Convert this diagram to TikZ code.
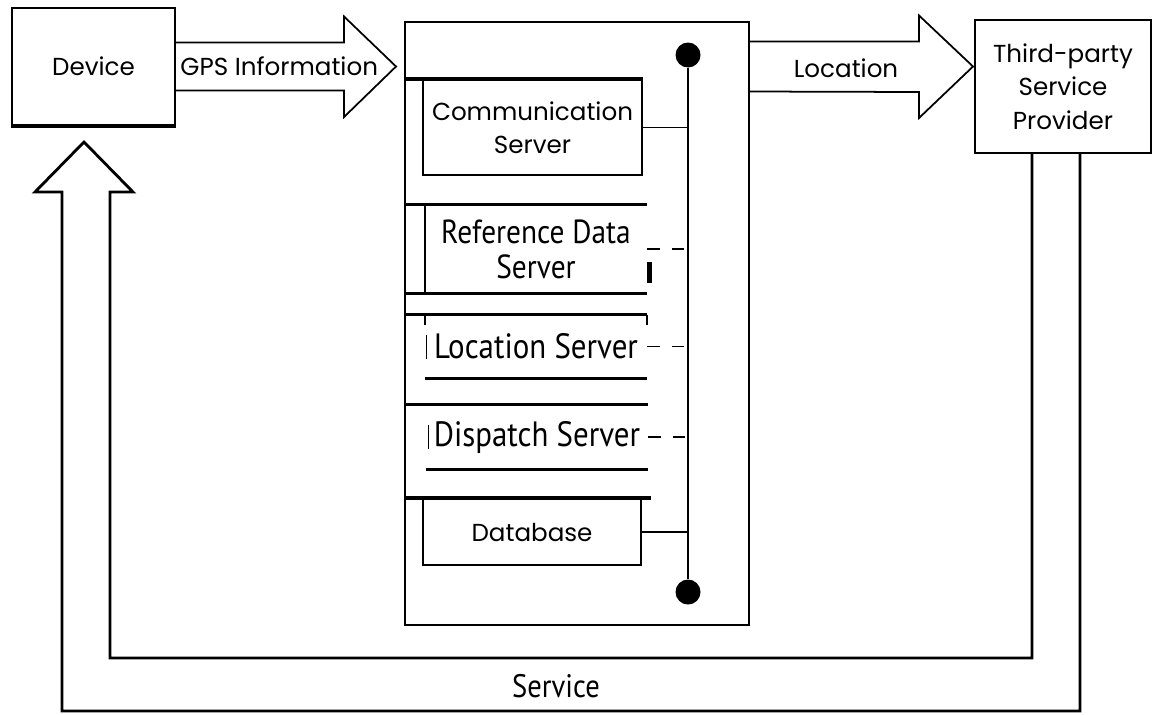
\documentclass[tikz,border=0pt]{standalone}
\usepackage{fontspec}
\setmainfont{Poppins}
\newfontfamily\narrowsf[FakeStretch=0.88]{PT Sans}
\usetikzlibrary{positioning,calc}

\begin{document}
\begin{tikzpicture}[
  x=0.02cm, y=-0.02cm,
  box/.style={draw, line width=1.2pt, inner sep=0pt, align=center,
              font=\fontsize{14}{19}\selectfont},
  srv/.style={inner sep=0pt, align=center,
              font=\narrowsf\fontsize{20}{21}\selectfont},
  lbl/.style={inner sep=0pt, font=\fontsize{14}{19}\selectfont},
  rule/.style={line width=2pt},
  side/.style={line width=1pt},
  wire/.style={line width=0.6pt},
  gap/.style={line width=0.9pt, dash pattern=on 7pt off 7pt},
  dot/.style={circle, fill, inner sep=0pt, minimum size=0.5cm},
  fat/.style={line width=1pt, line join=miter},
  ret/.style={line width=1.6pt, line join=miter}]

  \useasboundingbox (0,0) rectangle (1155,714);

  \node[box, minimum width=3.26cm, minimum height=2.34cm] (dev) at (93.5,66.5) {Device};
  \draw[line width=2.5pt] (dev.south west) -- (dev.south east);
  \node[box, minimum width=6.88cm, minimum height=12.06cm] (core) at (577,323.5) {};
  \node[box, minimum width=3.52cm, minimum height=2.66cm] (tsp) at (1063,86.5)
    {Third-party\\Service\\Provider};

  % servers inside the core
  \node[box, minimum width=4.38cm, minimum height=1.9cm] (comm) at (532.5,127.5)
    {Communication\\Server};
  \node[srv, minimum width=4.44cm, minimum height=1.76cm,
        font=\narrowsf\fontsize{19}{20}\selectfont] (refd) at (536,249) {Reference Data\\Server};
  \node[srv, minimum width=4.44cm, minimum height=1.26cm] (loc) at (536,346.5) {Location Server};
  \node[srv, minimum width=4.44cm, minimum height=1.28cm] (disp) at (537,437) {Dispatch Server};
  \node[box, minimum width=4.36cm, minimum height=1.32cm] (db) at (532,532) {Database};

  \draw[rule] (core.west |- comm.north) -- (comm.north east);
  \draw[rule] (core.west |- refd.north) -- (refd.north east);
  \draw[rule] (core.west |- refd.south) -- (refd.south east);
  \draw[side] (refd.north west) -- (refd.south west);
  \draw[line width=2.5pt] ($(refd.south east)+(2,-10)$) -- ++(0,-21);
  \draw[rule] (core.west |- loc.north) -- (loc.north east);
  \draw[rule] (loc.south west) -- (loc.south east);
  \draw[side] (loc.north west) -- ++(0,10);
  \draw[side] (loc.north east) -- ++(0,10);
  \draw[wire] ($(loc.west)+(2,-12)$) -- ++(0,24);
  \draw[rule] (core.west |- disp.north) -- (disp.north east);
  \draw[rule] (disp.south west) -- (disp.south east);
  \draw[wire] ($(disp.west)+(3,-12)$) -- ++(0,24);
  \draw[rule] (core.west |- db.north) -- ($(db.north east)+(9,0)$);

  % bus
  \node[dot] (bt) at (688,55) {};
  \node[dot] (bb) at (688,592) {};
  \draw[line width=1.6pt] (bt) -- (bb);
  \draw[wire] (comm.east) -- (comm.east -| bt);
  \draw[gap] (refd.east) -- (refd.east -| bt);
  \draw[gap] (loc.east) -- (loc.east -| bt);
  \draw[gap] (disp.east) -- (disp.east -| bt);
  \draw[wire] (db.east) -- (db.east -| bt);

  % block arrows
  \draw[fat] ($(dev.east)+(0,-24)$) -- ++(168,0) -- ++(0,-26) -- ($(dev.east)+(220,0)$)
    -- ($(dev.east)+(168,50.5)$) -- ++(0,-26.5) -- ($(dev.east)+(0,24)$);
  \node[lbl, anchor=west] (gps) at ($(dev.east)+(4,0)$) {GPS Information};

  \coordinate (ls) at (core.east |- dev.east);
  \draw[fat] ($(ls)+(0,-25)$) -- ++(169,0) -- ++(0,-26) -- ($(ls)+(223,0)$)
    -- ($(ls)+(169,51.5)$) -- ++(0,-26) -- ($(ls)+(0,25)$);
  \node[lbl] (locl) at ($(ls)+(96,2)$) {Location};

  % service loop back to the device
  \coordinate (tip) at (84,142);
  \coordinate (outr) at ($(tsp.south)+(17,0)$);
  \coordinate (innr) at ($(tsp.south)+(-31,0)$);
  \draw[ret] (outr) |- (62,711) -- (62,192) -- (35,192) -- (tip) -- (133,192)
    -- (110,192) -- (110,658) -| (innr);
  \node[srv, font=\narrowsf\fontsize{18.5}{20}\selectfont] (svc) at (556,686) {Service};
\end{tikzpicture}
\end{document}
